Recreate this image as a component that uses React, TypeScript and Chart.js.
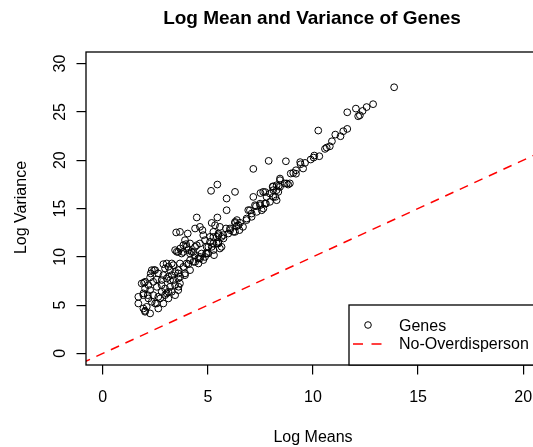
import React, { useEffect, useRef } from "react";
import { Chart, registerables } from "chart.js";

Chart.register(...registerables);

const logMeans = [
  13.86, 12.86, 12.55, 12.36, 12.04, 11.63, 12.15, 12.23, 10.25, 11.63, 11.44, 11.31, 11.06, 10.9, 10.8, 10.57,
  10.65, 10.3, 10.03, 9.89, 10.06, 9.62, 9.41, 9.39, 9.53, 9.19, 9.06, 8.94, 9.19, 8.71, 7.89, 7.16,
  8.43, 8.82, 8.27, 8.1, 8.9, 8.65, 8.37, 8.43, 8.27, 8.08, 8.21, 8.11, 7.95, 7.73, 7.63, 7.5,
  8.35, 8.11, 7.79, 8.27, 7.95, 7.71, 7.48, 7.24, 7.48, 7.29, 7.64, 7.56, 7.0, 6.92, 7.32, 7.08,
  7.08, 6.84, 6.84, 6.38, 6.29, 6.53, 6.37, 6.67, 6.45, 6.29, 6.5, 6.21, 6.29, 6.05, 5.97, 5.86,
  6.06, 5.15, 5.45, 5.89, 6.29, 5.89, 5.45, 4.47, 4.74, 3.49, 4.04, 7.16, 7.76, 8.43, 8.75, 5.18,
  5.34, 5.57, 5.26, 5.5, 5.73, 5.5, 5.65, 5.26, 5.1, 4.94, 5.18, 5.42, 5.57, 4.47, 4.23, 3.99,
  3.83, 3.59, 3.44, 4.7, 4.86, 5.02, 4.54, 4.39, 4.15, 3.99, 3.83, 3.67, 3.67, 3.91, 4.15, 4.39,
  4.62, 4.86, 5.02, 5.26, 5.26, 4.94, 4.62, 4.31, 4.07, 3.83, 5.5, 5.65, 5.1, 4.78, 4.62, 4.39,
  5.42, 5.74, 5.5, 5.29, 4.91, 4.63, 4.78, 4.31, 4.07, 3.96, 3.68, 3.52, 3.75, 4.15, 4.39, 4.55,
  4.15, 3.91, 3.68, 3.28, 3.04, 2.96, 3.2, 3.44, 3.59, 3.91, 3.59, 3.36, 3.12, 2.88, 2.64, 2.49,
  2.33, 2.88, 3.12, 3.36, 3.6, 3.28, 3.04, 2.44, 2.28, 2.25, 2.57, 2.8, 3.2, 2.01, 1.85, 2.17,
  2.4, 2.57, 2.8, 2.96, 3.2, 3.44, 3.67, 3.6, 1.96, 2.01, 2.25, 1.69, 1.93, 2.17, 2.4, 2.64,
  2.8, 3.04, 3.28, 2.33, 2.57, 2.09, 1.93, 2.01, 2.25, 2.64, 2.88, 3.12, 3.44, 3.59, 1.69, 1.93,
  2.14, 2.96, 3.12, 2.01, 2.49, 2.73,
];

const logVariances = [
  27.55, 25.8, 25.5, 25.1, 25.34, 24.96, 24.55, 24.65, 23.07, 23.24, 23.0, 22.48, 22.65, 21.96, 21.44, 21.17,
  21.31, 20.41, 20.27, 20.07, 20.48, 19.72, 19.58, 19.8, 19.14, 18.96, 18.68, 18.62, 18.6, 19.89, 19.93, 19.1,
  18.1, 17.48, 17.41, 17.3, 17.6, 17.6, 17.34, 17.93, 16.9, 17.24, 16.2, 16.9, 16.55, 16.7, 16.72, 16.6,
  16.72, 16.2, 16.2, 15.86, 15.69, 15.52, 15.5, 15.34, 15.34, 15.24, 15.0, 14.82, 14.82, 14.83, 14.65, 14.48,
  14.14, 13.96, 13.8, 13.8, 13.5, 13.52, 13.17, 13.1, 13.27, 13.61, 12.76, 12.59, 12.58, 12.93, 12.41, 12.93,
  12.76, 16.83, 17.48, 16.03, 16.72, 14.82, 14.07, 14.07, 12.76, 12.52, 12.41, 16.2, 15.5, 17.24, 17.59, 13.51,
  13.27, 13.1, 12.58, 12.24, 12.24, 12.4, 12.06, 12.06, 11.55, 11.03, 11.03, 11.38, 10.86, 11.2, 10.5, 11.03,
  10.5, 10.5, 10.69, 10.34, 9.99, 10.34, 9.83, 9.48, 9.65, 9.31, 8.96, 9.31, 12.58, 11.72, 11.38, 11.03,
  11.38, 11.72, 11.03, 11.38, 10.69, 10.34, 9.99, 10.51, 10.69, 11.2, 11.55, 11.03, 12.06, 12.24, 13.1, 12.93,
  12.07, 11.9, 11.38, 10.17, 10.34, 9.83, 9.66, 9.48, 9.24, 11.31, 10.86, 10.52, 10.34, 10.34, 10.17, 9.31,
  8.62, 8.28, 7.93, 9.31, 9.31, 8.79, 8.62, 8.44, 8.28, 8.1, 7.76, 7.58, 7.93, 8.1, 8.28, 8.62,
  8.62, 9.24, 8.97, 9.14, 8.62, 8.1, 7.76, 8.62, 8.28, 7.86, 7.66, 7.59, 7.59, 7.41, 7.24, 7.07,
  7.41, 6.89, 7.07, 6.72, 6.89, 7.07, 7.24, 6.9, 7.31, 6.72, 6.55, 5.86, 6.03, 5.69, 6.03, 5.86,
  6.38, 6.21, 6.38, 5.34, 5.17, 4.82, 4.65, 4.31, 4.14, 4.65, 5.17, 5.69, 6.03, 6.55, 5.17, 6.21,
  6.03, 6.03, 6.38, 4.41, 5.17, 5.69,
];

// reference line y = x (no overdispersion), drawn across the plot
const refLineX = [-1, 22];

const xTickValues = [0, 5, 10, 15, 20];
const yTickValues = [0, 5, 10, 15, 20, 25, 30];

const titleText = "Log Mean and Variance of Genes";
const xTitle = "Log Means";
const yTitle = "Log Variance";
const legendLabels = ["Genes", "No-Overdisperson"];

const W = 560;
const H = 447;
const FONT = '"Liberation Sans", Arial, Helvetica, sans-serif';

export default function App() {
  const ref = useRef<HTMLCanvasElement>(null);

  useEffect(() => {
    const canvas = ref.current;
    if (!canvas) return;

    const decor = {
      id: "rdecor",
      afterDraw(chart: any) {
        const ctx = chart.ctx as CanvasRenderingContext2D;
        const a = chart.chartArea;
        const xs = chart.scales.x;
        const ys = chart.scales.y;
        ctx.save();
        ctx.fillStyle = "#000";
        ctx.strokeStyle = "#000";

        // plot frame
        ctx.lineWidth = 1.3;
        ctx.setLineDash([]);
        ctx.strokeRect(a.left, a.top, a.right - a.left, a.bottom - a.top);

        // title
        ctx.font = `bold 19px ${FONT}`;
        ctx.textAlign = "center";
        ctx.textBaseline = "alphabetic";
        ctx.fillText(titleText, (a.left + a.right) / 2 - 1, 23.5);

        // x tick labels
        ctx.font = `16px ${FONT}`;
        xs.ticks.forEach((t: any) => {
          ctx.fillText(String(t.value), xs.getPixelForValue(t.value), a.bottom + 37);
        });

        // y tick labels (rotated, R style)
        ys.ticks.forEach((t: any) => {
          ctx.save();
          ctx.translate(a.left - 21, ys.getPixelForValue(t.value));
          ctx.rotate(-Math.PI / 2);
          ctx.fillText(String(t.value), 0, 0);
          ctx.restore();
        });

        // axis titles
        ctx.fillText(xTitle, (a.left + a.right) / 2, a.bottom + 76.5);
        ctx.save();
        ctx.translate(25.5, (a.top + a.bottom) / 2 - 1);
        ctx.rotate(-Math.PI / 2);
        ctx.fillText(yTitle, 0, 0);
        ctx.restore();

        // legend (bottom right)
        const lx = 349;
        const ly = 305;
        ctx.fillStyle = "#fff";
        ctx.fillRect(lx, ly, a.right - lx, a.bottom - ly);
        ctx.lineWidth = 1.3;
        ctx.strokeStyle = "#000";
        ctx.strokeRect(lx, ly, a.right - lx, a.bottom - ly);

        ctx.lineWidth = 1;
        ctx.beginPath();
        ctx.arc(368, 325, 3.3, 0, Math.PI * 2);
        ctx.stroke();

        ctx.strokeStyle = "#ff0000";
        ctx.lineWidth = 1.5;
        ctx.setLineDash([10, 8.5]);
        ctx.beginPath();
        ctx.moveTo(353, 344);
        ctx.lineTo(382, 344);
        ctx.stroke();
        ctx.setLineDash([]);

        ctx.fillStyle = "#000";
        ctx.textAlign = "left";
        ctx.font = `16px ${FONT}`;
        ctx.fillText(legendLabels[0], 399, 330.5);
        ctx.fillText(legendLabels[1], 399, 348.5);

        ctx.restore();
      },
    };

    const chart = new Chart(canvas, {
      type: "scatter",
      data: {
        datasets: [
          {
            label: legendLabels[0],
            data: logMeans.map((x, i) => ({ x, y: logVariances[i] })),
            pointRadius: 3.4,
            pointHoverRadius: 3.4,
            pointStyle: "circle",
            borderColor: "#000",
            backgroundColor: "rgba(0,0,0,0)",
            borderWidth: 1,
          },
          {
            type: "line",
            label: legendLabels[1],
            data: refLineX.map((x) => ({ x, y: x })),
            borderColor: "#ff0000",
            borderWidth: 1.5,
            borderDash: [9, 7],
            pointRadius: 0,
            fill: false,
            showLine: true,
            tension: 0,
          } as any,
        ],
      },
      options: {
        responsive: false,
        animation: false,
        events: [],
        layout: { padding: { left: 0, top: 52, right: W - 540, bottom: 0 } },
        plugins: {
          legend: { display: false },
          title: { display: false },
          tooltip: { enabled: false },
        },
        scales: {
          x: {
            type: "linear",
            min: -0.8,
            max: 20.8,
            afterBuildTicks: (s: any) => {
              s.ticks = xTickValues.map((v) => ({ value: v }));
            },
            afterFit: (s: any) => {
              s.height = H - 365;
            },
            grid: {
              display: true,
              drawOnChartArea: false,
              drawTicks: true,
              tickLength: 9.5,
              color: "#000",
              lineWidth: 1.2,
            },
            border: { display: false },
            ticks: { display: true, color: "rgba(0,0,0,0)", autoSkip: false, maxRotation: 0 },
          },
          y: {
            type: "linear",
            min: -1.2,
            max: 31.2,
            afterBuildTicks: (s: any) => {
              s.ticks = yTickValues.map((v) => ({ value: v }));
            },
            afterFit: (s: any) => {
              s.width = 86;
            },
            grid: {
              display: true,
              drawOnChartArea: false,
              drawTicks: true,
              tickLength: 9.5,
              color: "#000",
              lineWidth: 1.2,
            },
            border: { display: false },
            ticks: { display: true, color: "rgba(0,0,0,0)", autoSkip: false },
          },
        },
      } as any,
      plugins: [decor],
    });

    return () => chart.destroy();
  }, []);

  return (
    <div
      style={{
        position: "absolute",
        left: 0,
        top: 0,
        width: 533,
        height: 447,
        overflow: "hidden",
        background: "#fff",
      }}
    >
      <canvas ref={ref} width={W} height={H} style={{ display: "block", width: W, height: H }} />
    </div>
  );
}
